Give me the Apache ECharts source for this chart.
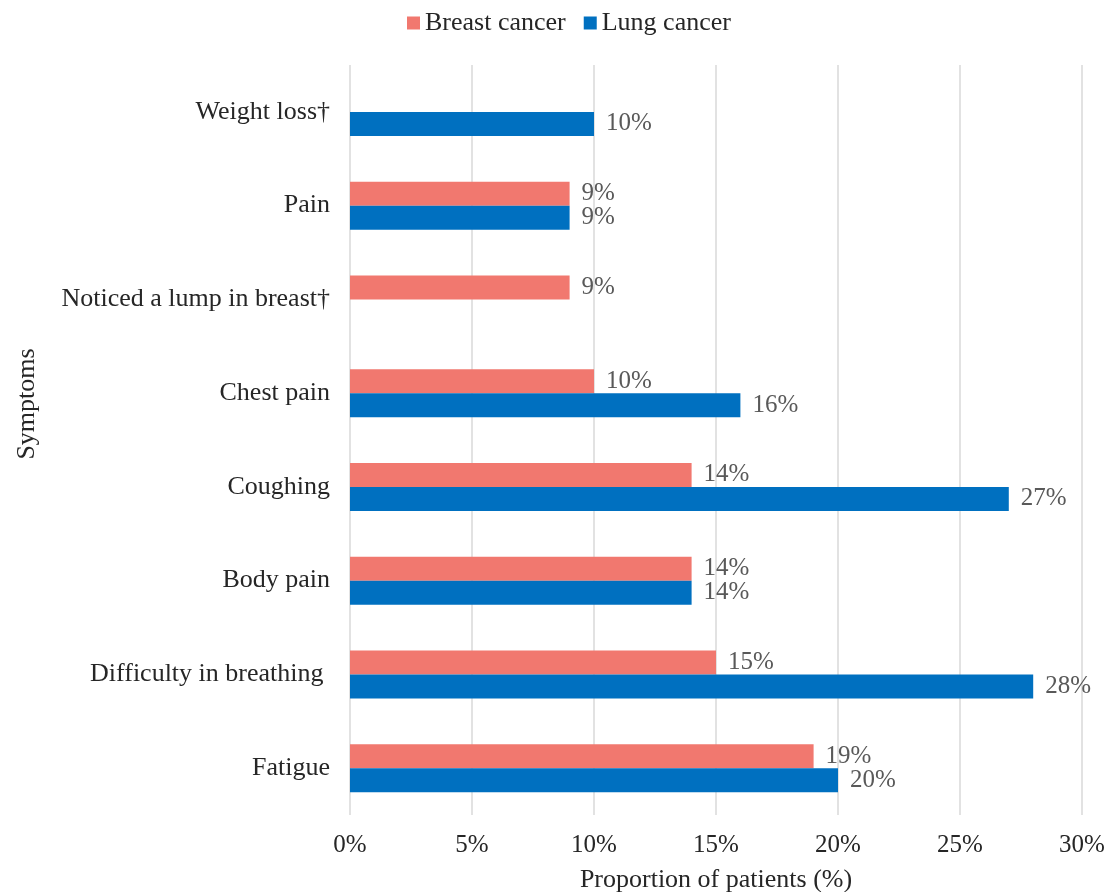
<!DOCTYPE html>
<html>
<head>
<meta charset="utf-8">
<script src="https://cdn.jsdelivr.net/npm/echarts@6/dist/echarts.min.js"></script>
<style>
  html, body { margin: 0; padding: 0; background: #ffffff; }
  #chart { width: 1111px; height: 892px; }
</style>
</head>
<body>
<div id="chart"></div>
<script>
// Symptoms listed bottom-to-top as they appear on the category axis
const symptoms = [
  'Fatigue',
  'Difficulty in breathing ',
  'Body pain',
  'Coughing',
  'Chest pain',
  'Noticed a lump in breast\u2020',
  'Pain',
  'Weight loss\u2020'
];

// Proportion of patients reporting each symptom (%); null = not reported
const breastCancer = [19, 15, 14, 14, 10, 9, 9, null];
const lungCancer   = [20, 28, 14, 27, 16, null, 9, 10];

const seriesNames = ['Breast cancer', 'Lung cancer'];
const seriesColors = ['#F1786F', '#0070C0'];

const xTicks = { min: 0, max: 30, interval: 5 };

const FONT = '"Liberation Serif", "Times New Roman", serif';
const TEXT = '#262626';
const NUM_SIZE = 25;
const WORD_SIZE = 26;

const chart = echarts.init(document.getElementById('chart'));

const labelStyle = {
  show: true,
  position: 'right',
  distance: 12,
  formatter: p => (p.value == null ? '' : p.value + '%'),
  fontFamily: FONT,
  fontSize: NUM_SIZE,
  color: '#595959'
};

chart.setOption({
  animation: false,
  backgroundColor: '#ffffff',
  textStyle: { fontFamily: FONT },
  legend: {
    top: 5,
    left: 402,
    itemWidth: 13,
    itemHeight: 13,
    itemGap: 18,
    icon: 'rect',
    textStyle: { fontFamily: FONT, fontSize: WORD_SIZE, color: TEXT },
    data: seriesNames
  },
  grid: {
    left: 350, right: 29, top: 65, bottom: 77,
    containLabel: false,
    outerBoundsMode: 'none'
  },
  xAxis: {
    type: 'value',
    min: xTicks.min,
    max: xTicks.max,
    interval: xTicks.interval,
    name: 'Proportion of patients (%)',
    nameLocation: 'middle',
    nameGap: 52,
    nameTextStyle: { fontFamily: FONT, fontSize: WORD_SIZE, color: TEXT },
    axisLine: { show: false },
    axisTick: { show: false },
    axisLabel: {
      margin: 18,
      fontFamily: FONT,
      fontSize: NUM_SIZE,
      color: TEXT,
      formatter: v => v + '%'
    },
    splitLine: { show: true, lineStyle: { color: '#D9D9D9', width: 1.5 } }
  },
  yAxis: {
    type: 'category',
    data: symptoms,
    axisLine: { show: false },
    axisTick: { show: false },
    axisLabel: { margin: 20, fontFamily: FONT, fontSize: WORD_SIZE, color: TEXT },
    splitLine: { show: false }
  },
  // Vertical title for the symptom axis, set a little above the grid's middle
  graphic: [{
    type: 'text',
    x: 27,
    y: 404,
    rotation: Math.PI / 2,
    style: {
      text: 'Symptoms',
      fontFamily: FONT,
      fontSize: WORD_SIZE,
      fill: TEXT,
      align: 'center',
      verticalAlign: 'middle'
    }
  }],
  series: [
    {
      name: seriesNames[0],
      type: 'bar',
      data: breastCancer,
      barWidth: 24,
      barGap: '0%',
      itemStyle: { color: seriesColors[0] },
      label: labelStyle
    },
    {
      name: seriesNames[1],
      type: 'bar',
      data: lungCancer,
      barWidth: 24,
      barGap: '0%',
      itemStyle: { color: seriesColors[1] },
      label: labelStyle
    }
  ]
});
</script>
</body>
</html>
